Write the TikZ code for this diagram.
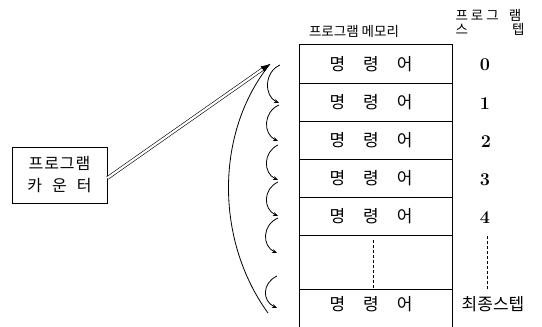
\documentclass[tikz,border=0pt]{standalone}
\usepackage{fontspec}
\newfontfamily\kr{Noto Sans CJK KR}
\usetikzlibrary{arrows.meta}
\begin{document}
\begin{tikzpicture}[x=1pt,y=-1pt,
  line/.style={line width=0.8pt},
  kt/.style={font=\kr\fontsize{17}{19}\selectfont, inner sep=0pt},
  kh/.style={font=\kr\fontsize{13.5}{15}\selectfont, inner sep=0pt},
  num/.style={font=\fontsize{18}{20}\selectfont\bfseries, inner sep=0pt},
  hop/.style={line width=0.8pt, -{Stealth[length=5pt,width=4pt]}},
  dbl/.style={double, double distance=2.2pt, line width=0.6pt, -{Latex[length=9pt,width=7pt]}},
  dashln/.style={line width=0.8pt, dash pattern=on 3pt off 2pt}]
\useasboundingbox (0,0) rectangle (542,327);

% headers
\node[kh] (hmem) at (354,31) {프로그램\hspace{3pt}메모리};
\node[kh, align=left] (hstep) at (490,22)
  {프\hspace{3pt}로\hspace{3pt}그\hspace{10pt}램\\[-1pt]스\hspace{44pt}텝};

% memory box
\draw[line] (299,44) -- (452,44);
\draw[line] (299,44) -- (299,327);
\draw[line] (452,44) -- (452,327);
\foreach \yy in {83,121,159,197,235,289}{\draw[line] (299,\yy) -- (452,\yy);}

\node[kt] (r0) at (371,64) {명\hspace{18pt}령\hspace{18pt}어};
\node[kt] (r1) at (371,102) {명\hspace{18pt}령\hspace{18pt}어};
\node[kt] (r2) at (371,140) {명\hspace{18pt}령\hspace{18pt}어};
\node[kt] (r3) at (371,178) {명\hspace{18pt}령\hspace{18pt}어};
\node[kt] (r4) at (371,216) {명\hspace{18pt}령\hspace{18pt}어};
\node[kt] (rl) at (371,304) {명\hspace{18pt}령\hspace{18pt}어};
\coordinate (d1) at (373,240);
\coordinate (d2) at (373,288);
\draw[dashln] (d1) -- (d2);

% step numbers
\node[num] (n0) at (485,65) {0};
\node[num] (n1) at (485,104) {1};
\node[num] (n2) at (486,142) {2};
\node[num] (n3) at (485,180) {3};
\node[num] (n4) at (485,218) {4};
\coordinate (e1) at (487,236);
\coordinate (e2) at (487,290);
\draw[dashln] (e1) -- (e2);
\node[kt] (last) at (493,304) {최종스텝};

% program counter
\node[draw, line width=0.8pt, minimum width=95pt, minimum height=56pt, inner sep=0pt,
      align=center, font=\kr\fontsize{16}{18}\selectfont] (pc) at (59.5,175)
  {프\hspace{1pt}로\hspace{1pt}그\hspace{1pt}램\\[4pt]카\hspace{10pt}운\hspace{10pt}터};

% double arrow
\coordinate (tip) at (270,64);
\coordinate (pcs) at ([yshift=-3pt]pc.east);
\draw[dbl] (pcs) -- (tip);

% big return arc
\coordinate (arcb) at (268,313);
\draw[line width=0.8pt] (arcb) .. controls (215,240) and (215,132) .. (tip);

% hops
\coordinate (h0) at (280,65);
\coordinate (h1) at (279,103);
\coordinate (h1b) at (279,105);
\coordinate (h2) at (278,141);
\coordinate (h2b) at (278,145);
\coordinate (h3) at (278,180);
\coordinate (h3b) at (278,182);
\coordinate (h4) at (278,216);
\coordinate (h4b) at (278,218);
\coordinate (h5) at (277,253);
\coordinate (h6) at (277,276);
\coordinate (h7) at (277,308);
\draw[hop] (h0) .. controls (264,72) and (264,96) .. (h1);
\draw[hop] (h1b) .. controls (263,112) and (263,134) .. (h2);
\draw[hop] (h2b) .. controls (263,152) and (263,173) .. (h3);
\draw[hop] (h3b) .. controls (263,189) and (263,209) .. (h4);
\draw[hop] (h4b) .. controls (262,225) and (262,246) .. (h5);
\draw[hop] (h6) .. controls (262,283) and (262,301) .. (h7);
\end{tikzpicture}
\end{document}
